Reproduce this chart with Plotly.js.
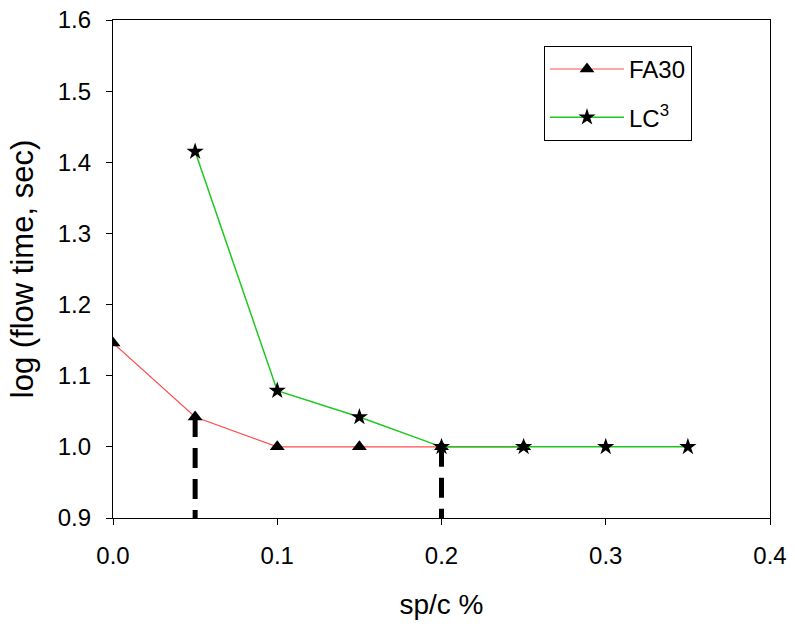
<!DOCTYPE html>
<html><head><meta charset="utf-8">
<script src="https://cdn.plot.ly/plotly-3.0.1.min.js"></script>
<style>body{margin:0;background:#fff}#c{width:795px;height:626px}</style>
</head><body><div id="c"></div>
<script>
const faX = [0, 0.05, 0.1, 0.15, 0.2, 0.25];
const faY = [1.146, 1.042, 1.0, 1.0, 1.0, 1.0];
const lcX = [0.05, 0.1, 0.15, 0.2, 0.25, 0.3, 0.35];
const lcY = [1.415, 1.079, 1.042, 1.0, 1.0, 1.0, 1.0];
const drop1X = [0.05, 0.05];
const drop1Y = [1.042, 0.9];
const drop2X = [0.2, 0.2];
const drop2Y = [1.0, 0.9];
const xTicks = [0, 0.1, 0.2, 0.3, 0.4];
const xTickText = ['0.0', '0.1', '0.2', '0.3', '0.4'];
const yTicks = [0.9, 1.0, 1.1, 1.2, 1.3, 1.4, 1.5, 1.6];
const yTickText = ['0.9', '1.0', '1.1', '1.2', '1.3', '1.4', '1.5', '1.6'];

const traces = [
  {x: drop1X, y: drop1Y, mode: 'lines', line: {color: '#000', width: 5, dash: '20px,11px'}, showlegend: false, hoverinfo: 'skip'},
  {x: drop2X, y: drop2Y, mode: 'lines', line: {color: '#000', width: 5, dash: '20px,11px'}, showlegend: false, hoverinfo: 'skip'},
  {x: faX, y: faY, name: 'FA30', legendgroup: 'a', mode: 'lines+markers',
   line: {color: '#ff4d4d', width: 1.2}, marker: {symbol: 'triangle-up', size: 13, color: '#000'}},
  {x: lcX, y: lcY, name: 'LC<sup>3</sup>', legendgroup: 'b', mode: 'lines+markers',
   line: {color: '#1ec81e', width: 1.5}, marker: {symbol: 'star', size: 13, color: '#000'}}
];
const layout = {
  width: 795, height: 626,
  margin: {l: 113, r: 25, t: 20, b: 108},
  paper_bgcolor: '#fff', plot_bgcolor: '#fff',
  font: {family: 'Liberation Sans, Arial, sans-serif', size: 24, color: '#000'},
  showlegend: true,
  legend: {x: 0.656, y: 0.948, xanchor: 'left', yanchor: 'top', bordercolor: '#000', borderwidth: 1,
           font: {size: 24}, itemwidth: 74, entrywidth: 184, traceorder: 'grouped', tracegroupgap: 14, bgcolor: '#fff'},
  xaxis: {range: [0, 0.4], tickvals: xTicks, ticktext: xTickText, ticks: 'outside', ticklen: 6,
          tickcolor: '#000', showline: true, linecolor: '#000', linewidth: 1.3, mirror: true,
          showgrid: false, zeroline: false, tickfont: {size: 24}, ticklabelstandoff: 10,
          title: {text: 'sp/c %', font: {size: 28}, standoff: 26}},
  yaxis: {range: [0.9, 1.6], tickvals: yTicks, ticktext: yTickText, ticks: 'outside', ticklen: 6,
          tickcolor: '#000', showline: true, linecolor: '#000', linewidth: 1.3, mirror: true,
          showgrid: false, zeroline: false, tickfont: {size: 24}, ticklabelstandoff: 10,
          title: {text: 'log (flow time, sec)', font: {size: 31}, standoff: 14}}
};
Plotly.newPlot('c', traces, layout, {displayModeBar: false});
</script></body></html>
